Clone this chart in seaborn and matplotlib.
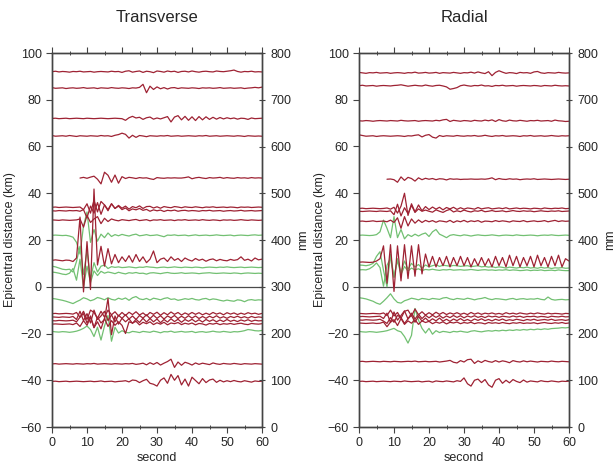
import numpy as np
import pandas as pd
import matplotlib
matplotlib.use("Agg")
import matplotlib.pyplot as plt
import seaborn as sns

# sampling times of the traces (one value per second)
seconds = list(range(61))
nan = float("nan")

# ---------------- Transverse component (baseline km, deviations km) ----------------
tr_92 = [0.0, 0.2, -0.1, 0.1, 0.0, -0.2, 0.1, 0.0, 0.2, -0.1,
         0.0, 0.1, -0.2, 0.0, 0.1, 0.0, -0.1, 0.2, 0.0, 0.1,
         -0.3, 0.2, 0.4, -0.2, 0.1, 0.3, -0.3, 0.2, 0.0, -0.4,
         0.3, 0.1, -0.2, 0.3, 0.0, 0.2, -0.3, 0.1, 0.2, -0.1,
         0.3, 0.0, -0.2, 0.1, 0.2, 0.0, -0.1, 0.3, 0.1, 0.0,
         0.2, 0.4, 0.7, 0.1, -0.2, 0.1, 0.0, 0.2, -0.1, 0.0, -0.1]
tr_85 = [0.2, -0.1, 0.0, 0.1, -0.2, 0.0, 0.1, -0.1, 0.0, 0.2,
         -0.1, 0.0, 0.1, -0.2, 0.1, 0.0, -0.1, 0.2, 0.0, -0.1,
         0.1, 0.0, -0.2, 0.1, 0.0, 0.3, 1.6, -2.0, 0.8, -0.6,
         0.5, -0.3, 0.2, -0.4, 0.1, 0.2, -0.2, 0.1, 0.0, -0.1,
         0.1, 0.0, -0.2, 0.1, 0.0, 0.1, -0.1, 0.0, 0.2, -0.1,
         0.0, 0.1, -0.1, 0.0, 0.1, -0.2, 0.0, 0.1, 0.3, 0.1, 0.4]
tr_72 = [0.0, 0.1, -0.1, 0.0, 0.1, -0.1, 0.0, 0.1, 0.0, -0.1,
         0.1, 0.0, -0.1, 0.0, 0.1, 0.0, -0.1, 0.0, 0.1, 0.0,
         -0.1, -0.8, 0.3, 0.9, 0.2, 0.5, -0.4, 0.3, 0.6, -0.3,
         0.2, -0.2, 0.3, 0.8, -1.5, 0.6, 1.2, -0.6, 0.9, -0.8,
         0.7, -0.9, 0.8, -0.6, 0.7, -0.4, 0.5, -0.3, 0.4, -0.2,
         0.3, -0.1, 0.2, -0.3, 0.1, 0.0, -0.4, 0.2, -0.1, 0.0, 0.1]
tr_64 = [0.2, -0.1, 0.0, 0.1, -0.1, 0.2, 0.0, -0.2, 0.1, 0.0,
         -0.1, 0.1, 0.0, -0.1, 0.2, 0.0, 0.1, -0.2, 0.3, 0.6,
         1.2, 0.7, -0.9, 0.3, -0.6, 0.2, 0.0, -0.3, 0.1, 0.0,
         -0.1, 0.1, 0.0, 0.2, -0.1, 0.0, 0.1, -0.1, 0.0, 0.1,
         0.0, -0.1, 0.1, 0.0, 0.2, -0.1, 0.0, 0.1, -0.1, 0.0,
         0.1, 0.0, -0.1, 0.1, 0.0, -0.2, 0.1, 0.0, -0.1, 0.0, -0.1]
tr_47 = [nan, nan, nan, nan, nan, nan, nan, nan, 0.0, 0.3,
         -0.1, 0.4, 0.8, -0.5, -2.5, 2.5, 1.2, -1.8, 1.3, -2.2,
         0.6, -0.2, 0.3, 0.1, -0.2, 0.2, 0.0, 0.1, -0.3, -0.6,
         0.2, 0.0, -0.1, 0.1, 0.0, 0.1, 0.0, 0.0, 0.2, 0.5,
         -0.3, 0.1, 0.3, 0.0, -0.2, 0.2, 0.0, 0.1, 0.3, -0.1,
         0.2, 0.0, -0.1, 0.2, 0.0, 0.1, -0.1, 0.2, 0.0, 0.1, 0.0]
tr_34 = [0.0, 0.1, -0.1, 0.0, 0.1, 0.0, -0.1, 0.0, 0.1, -1.0,
         1.5, -2.5, 3.0, -2.0, 2.5, 1.0, -1.5, 1.5, -0.5, 0.8,
         -0.4, 0.5, -0.8, 0.3, -0.2, 0.6, -0.5, 0.3, 0.4, -0.3,
         0.2, -0.4, 0.3, 0.0, -0.2, 0.3, 0.1, -0.2, 0.2, 0.0,
         -0.1, 0.2, 0.0, -0.2, 0.1, 0.0, 0.2, -0.1, 0.0, 0.1,
         -0.1, 0.1, 0.0, -0.2, 0.1, 0.0, 0.1, -0.1, 0.0, 0.1, 0.0]
tr_33 = [0.0, -0.1, 0.1, 0.0, -0.1, 0.1, 0.0, 0.1, -0.2, 0.5,
         -3.0, 2.0, -1.0, 3.5, -1.5, 2.5, 0.5, 3.0, 1.0, 2.0,
         0.5, 1.2, 0.0, 0.8, 0.4, 1.0, 0.2, 0.6, -0.2, 0.4,
         0.0, 0.3, -0.3, 0.2, 0.0, 0.3, -0.2, 0.1, 0.2, -0.1,
         0.1, 0.0, -0.2, 0.1, 0.0, 0.2, -0.1, 0.0, 0.1, -0.2,
         0.0, 0.1, -0.1, 0.0, 0.2, -0.1, 0.0, 0.1, -0.1, 0.0, 0.1]
tr_28 = [0.1, 0.0, -0.1, 0.1, 0.0, -0.1, 0.0, 0.1, 0.5, -3.0,
         2.0, -1.0, 0.5, 1.5, -1.5, 0.8, -0.6, 0.5, 0.0, -0.3,
         0.2, 0.0, -0.2, 0.1, 0.3, -0.2, 0.0, 0.2, -0.3, 0.1,
         0.0, 0.2, -0.1, 0.0, 0.1, -0.2, 0.1, 0.0, 0.2, -0.1,
         0.0, 0.1, -0.1, 0.2, 0.0, -0.1, 0.1, 0.0, -0.2, 0.1,
         0.0, 0.1, -0.1, 0.0, 0.2, 0.0, -0.1, 0.1, 0.0, -0.1, 0.0]
tr_11 = [0.0, 0.2, 0.0, -0.2, 0.1, 0.0, -0.5, 1.0, 18.5, -13.5,
         8.0, -12.5, 30.5, -2.0, 6.0, -2.5, 5.0, -1.5, 2.5, -1.0,
         1.5, -0.5, 2.0, -0.8, 2.5, -0.5, 1.5, -1.0, 0.5, 4.0,
         -1.0, 0.5, 1.0, -0.5, 1.5, 0.0, 0.8, -0.5, 1.0, 0.2,
         -0.3, 0.8, 0.0, 0.5, -0.4, 0.3, 0.6, -0.2, 0.4, 0.0,
         -0.2, 0.4, 0.0, 0.3, 1.5, 0.0, 0.5, -0.3, 1.0, 0.2, 0.5]
tg_22 = [0.0, 0.1, 0.0, -0.1, 0.0, -0.3, -0.8, -3.0, -8.0, 4.0,
         10.0, -3.0, 2.5, -2.5, 0.5, -1.0, 1.0, -0.5, 0.3, -0.2,
         0.4, 0.0, -0.3, 0.2, 0.5, -0.2, 0.0, 0.3, -0.1, 0.0,
         0.2, -0.2, -0.6, 0.1, 0.0, 0.2, -0.1, 0.0, 0.1, -0.2,
         0.0, 0.2, -0.1, 0.0, 0.1, -0.1, 0.0, 0.2, 0.0, -0.1,
         0.0, 0.1, -0.2, 0.0, 0.1, 0.0, -0.1, 0.1, 0.2, 0.0, 0.1]
tg_8 = [0.5, 0.2, -0.3, -0.8, -1.0, -0.8, -2.0, 2.5, 9.0, -3.0,
        7.0, -5.0, 2.0, -2.0, 0.5, 1.0, -0.5, 0.3, 0.0, 0.2,
        -0.1, 0.0, 0.2, 0.0, -0.2, 0.1, 0.0, 0.3, 0.1, 0.0,
        -0.2, 0.0, 0.1, -0.1, 0.0, 0.2, 0.0, -0.1, 0.1, 0.0,
        -0.1, 0.1, 0.0, -0.2, 0.0, 0.1, 0.0, -0.1, 0.1, 0.0,
        0.2, 0.0, -0.1, 0.0, 0.1, -0.1, 0.0, 0.1, 0.0, -0.1, 0.0]
tg_6 = [0.5, 0.3, 0.0, -0.4, -0.6, 0.0, 2.0, -3.0, 6.0, -6.0,
        3.0, -4.0, 1.0, -1.0, 0.8, 0.0, 0.5, 0.2, -0.2, 0.4,
        0.0, -0.3, 0.2, 0.0, 0.3, -0.1, 0.0, -0.4, 0.1, 0.2,
        0.0, -0.2, 0.1, 0.3, 0.0, -0.1, 0.0, 0.2, -0.1, 0.0,
        0.1, 0.0, -0.2, 0.0, 0.1, 0.2, 0.0, -0.1, 0.0, 0.1,
        0.0, -0.1, 0.1, 0.0, -0.2, 0.0, 0.1, 0.0, -0.1, 0.0, -0.1]
tg_m5 = [0.2, 0.0, -0.3, -0.6, -1.0, -1.5, -2.0, -1.2, -0.5, 0.5,
         0.0, -0.8, -0.3, 0.6, 0.2, -0.4, 0.5, -0.2, -0.5, 0.3,
         -0.2, 0.4, -0.6, 0.5, 1.0, 0.0, -0.3, 0.2, -0.5, 0.3,
         0.0, -0.4, 0.2, 0.5, -0.2, 0.0, -0.6, -0.3, 0.1, -0.2,
         0.2, -0.3, -0.5, 0.0, 0.2, -0.4, 0.0, -0.2, -0.6, -0.9,
         -0.5, -0.8, -1.0, -0.4, -0.6, -1.2, -0.5, -0.3, -0.6, -0.4, -0.5]
tr_m11 = [0.0, 0.1, -0.1, 0.0, 0.1, 0.0, -0.2, 0.5, -1.5, 1.0,
          -2.5, 1.5, 0.5, -2.0, 1.0, -1.5, 1.5, -0.5, 0.8, -1.0,
          0.5, -0.8, 0.6, -0.4, 0.8, -0.6, 0.3, -0.9, 0.5, -0.3,
          0.6, -0.7, 0.4, -0.5, 0.7, -0.3, 0.5, -0.6, 0.3, -0.4,
          0.5, -0.3, 0.4, -0.5, 0.2, -0.4, 0.5, -0.2, 0.3, -0.5,
          0.4, -0.2, 0.3, -0.4, 0.2, -0.3, 0.4, -0.1, 0.2, -0.3, 0.1]
tr_m13 = [0.1, 0.0, -0.1, 0.1, 0.0, -0.1, 0.3, -1.0, 2.5, -1.5,
          1.5, -2.5, 3.0, -1.0, 0.5, 2.5, -1.5, 1.0, -2.0, 0.8,
          -0.5, 1.0, -0.8, 0.5, -1.0, 0.7, -0.4, 1.0, -0.6, 0.8,
          -0.5, 0.6, -0.8, 0.5, -0.3, 0.7, -0.6, 0.4, -0.5, 0.6,
          -0.4, 0.5, -0.6, 0.3, -0.5, 0.4, -0.3, 0.6, -0.4, 0.2,
          -0.5, 0.3, -0.2, 0.4, -0.3, 0.2, -0.4, 0.3, -0.2, 0.1, -0.1]
tr_m14 = [0.0, -0.1, 0.1, 0.0, -0.1, 0.0, 0.2, -0.5, 1.5, 3.0,
          -1.0, 2.0, -3.0, 1.5, -1.0, 0.5, 9.5, -6.0, 2.0, -1.5,
          1.0, -0.5, 0.8, -1.2, 0.6, -0.8, 1.0, -0.6, 0.9, -0.5,
          0.7, -0.9, 0.5, -0.6, 0.8, -0.4, 0.6, -0.7, 0.5, -0.3,
          0.6, -0.5, 0.4, -0.6, 0.5, -0.3, 0.4, -0.5, 0.3, -0.4,
          0.5, -0.3, 0.2, -0.4, 0.3, -0.2, 0.4, -0.3, 0.2, -0.1, 0.0]
tr_m16 = [0.0, 0.1, 0.0, -0.1, 0.0, 0.1, -0.2, 0.5, -1.0, 1.5,
          -0.5, 3.0, -1.5, 1.0, -2.0, 2.5, -1.0, 1.5, -0.5, 1.0,
          -0.5, -4.0, 1.0, 0.5, 1.2, -0.3, 0.8, 0.2, 1.0, -0.2,
          0.6, 0.0, 0.8, -0.3, 0.5, 0.2, 0.7, -0.2, 0.4, 0.0,
          0.5, -0.3, 0.3, 0.1, -0.4, 0.3, 0.0, 0.4, -0.2, 0.2,
          0.0, 0.3, -0.1, 0.2, 0.4, 0.0, -0.2, 0.3, 0.1, 0.0, 0.2]
tg_m19 = [0.2, 0.0, -0.1, 0.1, 0.0, -0.2, 0.0, 0.3, 0.8, 1.5,
          2.5, 1.0, -2.0, 2.0, -3.5, 2.5, 7.0, -4.0, 2.0, -0.5,
          0.5, -0.2, -0.4, 0.2, 0.0, -0.3, 0.2, 0.0, -0.2, 0.3,
          0.0, -0.4, 0.1, 0.0, 0.3, -0.2, 0.0, 0.2, -0.1, 0.0,
          0.2, -0.3, 0.0, 0.1, -0.2, 0.0, 0.3, 0.0, -0.1, 0.2,
          0.0, -0.2, 0.1, 0.0, 0.2, 0.5, 1.0, 0.8, 0.5, 0.4, 0.6]
tr_m33 = [0.0, 0.1, -0.1, 0.0, 0.1, 0.0, -0.1, 0.1, 0.0, -0.1,
          0.1, 0.0, 0.2, -0.1, 0.0, 0.1, 0.0, -0.1, 0.1, 0.0,
          -0.1, 0.1, 0.0, 0.2, -0.2, 0.0, 0.3, -0.4, 0.5, -0.2,
          0.6, -0.5, 0.3, 1.0, 2.0, -1.5, 0.8, -0.6, 0.7, 0.2,
          -0.5, 0.4, -0.2, 0.3, 0.0, -0.3, 0.4, 0.0, -0.2, 0.2,
          0.0, -0.1, 0.2, 0.0, -0.2, 0.1, 0.0, -0.1, 0.1, 0.0, -0.1]
tr_m40 = [0.0, 0.1, -0.1, 0.0, 0.1, -0.1, 0.0, 0.1, 0.0, -0.1,
          0.0, 0.1, -0.1, 0.0, 0.2, -0.1, 0.0, 0.1, -0.2, 0.0,
          0.1, 0.3, -0.2, 0.6, 0.4, -0.5, 0.3, 0.9, -0.8, -1.2,
          -2.0, 0.5, 1.5, -0.8, 3.0, 0.5, 2.5, -1.5, 1.0, -2.0,
          1.8, 0.4, -1.0, 1.2, -0.5, 0.6, 1.0, -0.4, 0.5, -0.2,
          0.3, -0.1, 0.4, 0.0, -0.2, 0.3, 0.0, -0.3, 0.2, 0.0, 0.1]

# ---------------- Radial component ----------------
rd_91 = [0.2, 0.0, -0.2, 0.1, 0.0, 0.2, -0.1, 0.0, 0.1, -0.2,
         0.0, 0.1, 0.0, -0.2, 0.1, 0.0, 0.3, -0.1, 0.0, 0.2,
         -0.1, 0.0, 0.2, -0.2, 0.1, 0.0, -0.1, 0.2, 0.0, -0.2,
         0.1, 0.0, 0.3, -0.1, 0.4, 0.0, -0.3, 0.5, -1.2, 0.2,
         0.9, 0.3, -0.2, 0.1, 0.0, -0.3, 0.2, 0.0, 0.1, -0.2,
         0.4, 0.6, 0.0, -0.2, 0.1, 0.0, -0.1, 0.2, 0.0, -0.1, 0.0]
rd_86 = [0.0, 0.2, -0.1, 0.0, 0.1, -0.2, 0.0, 0.1, 0.0, -0.1,
         0.1, 0.2, 0.4, 0.1, -0.2, 0.0, 0.2, 0.0, -0.1, 0.3,
         0.0, -0.2, 0.1, 0.2, -0.1, -0.5, -1.5, -1.2, -0.8, 0.0,
         0.3, 0.0, -0.2, 0.1, 0.0, 0.3, -0.1, 0.0, -0.3, 0.1,
         0.0, 0.2, -0.1, 0.0, 0.1, -0.2, 0.0, 0.1, 0.0, -0.1,
         0.1, 0.0, -0.2, 0.1, 0.0, -0.1, 0.2, 0.0, -0.1, 0.0, -0.1]
rd_71 = [0.0, -0.1, 0.1, 0.0, -0.2, 0.0, 0.1, 0.0, -0.1, 0.1,
         0.0, -0.1, 0.2, 0.0, -0.1, 0.0, 0.1, -0.2, 0.0, 0.1,
         0.0, -0.1, 0.2, 0.0, 0.4, 0.6, -0.3, 0.2, 0.0, -0.2,
         0.1, 0.0, -0.2, 0.2, 0.0, -0.1, 0.3, 0.0, 0.4, -0.3,
         0.5, 0.0, -0.2, 0.3, 0.0, -0.1, 0.2, 0.0, -0.2, 0.1,
         0.0, 0.2, -0.1, 0.0, 0.1, -0.2, 0.3, 0.0, -0.1, -0.3, -0.2]
rd_64 = [0.5, 0.2, -0.1, 0.0, 0.1, -0.2, 0.0, 0.1, 0.0, -0.1,
         0.0, 0.1, 0.0, -0.2, 0.1, 0.0, 0.3, 0.5, -0.4, 0.3,
         0.6, -0.5, -0.9, 0.2, -0.2, 0.1, 0.0, -0.1, 0.2, 0.0,
         -0.1, 0.1, 0.0, 0.2, -0.1, 0.0, 0.3, 0.0, -0.2, 0.1,
         0.0, 0.2, -0.1, 0.0, 0.1, 0.0, -0.2, 0.1, 0.0, 0.2,
         -0.1, 0.0, 0.1, -0.1, 0.0, 0.2, 0.0, -0.1, 0.1, 0.0, 0.1]
rd_46 = [nan, nan, nan, nan, nan, nan, nan, nan, 0.0, 0.1,
         -0.2, -1.3, 1.0, -0.5, 0.8, 0.3, -0.8, 0.6, -0.2, 0.4,
         0.0, 0.3, -0.2, 0.2, 0.1, -0.3, 0.2, 0.0, 0.1, -0.1,
         0.0, 0.0, 0.1, 0.0, 0.0, 0.1, 0.0, 0.2, 0.6, -0.2,
         0.3, 0.0, -0.1, 0.2, 0.0, 0.1, -0.2, 0.0, 0.1, 0.0,
         0.2, -0.1, 0.0, 0.1, 0.0, -0.1, 0.0, 0.1, 0.0, -0.1, 0.0]
rd_33 = [0.0, 0.1, -0.1, 0.0, 0.1, 0.0, -0.1, 0.0, 0.2, -0.3,
         0.5, -2.0, 1.0, 6.5, -3.0, 2.0, -1.5, 1.5, -1.0, 0.8,
         -0.5, 0.6, -0.3, 0.5, -0.6, 0.4, -0.2, 0.5, -0.4, 0.3,
         -0.3, 0.2, 0.0, -0.3, 0.4, -0.2, 0.1, 0.3, -0.2, 0.0,
         0.2, -0.1, 0.3, -0.2, 0.0, 0.2, -0.1, 0.1, 0.0, -0.2,
         0.1, 0.0, -0.2, 0.2, 0.0, -0.1, 0.1, 0.0, 0.2, -0.1, 0.0]
rd_32 = [0.0, -0.1, 0.0, 0.1, 0.0, -0.1, 0.1, 0.0, -0.1, 0.2,
         -1.5, 3.0, -2.0, 1.5, -1.0, 2.5, -0.5, 1.0, 0.0, 0.5,
         0.0, -0.4, 0.6, 0.0, -0.5, 0.3, 0.8, -0.3, 0.2, -0.2,
         0.5, 0.0, -0.3, 0.2, 0.0, 0.4, -0.2, 0.0, 0.3, -0.1,
         0.0, 0.2, -0.2, 0.0, 0.3, 0.0, -0.1, 0.2, 0.0, 0.1,
         -0.2, 0.0, 0.2, 0.0, -0.1, 0.1, 0.0, 0.2, -0.1, 0.0, 0.1]
rd_28 = [0.0, 0.1, -0.1, 0.0, 0.2, -0.1, 0.0, 0.1, -0.2, 0.5,
         -0.5, 1.5, -3.0, 2.0, -2.0, 1.0, -0.8, 0.6, -0.5, 0.4,
         -0.2, 0.3, -0.4, 0.2, 0.0, -0.3, 0.4, -0.5, 0.2, -0.2,
         0.4, -0.3, 0.2, -0.1, 0.3, -0.4, 0.1, 0.0, -0.2, 0.3,
         -0.1, 0.2, 0.0, -0.3, 0.2, 0.0, -0.1, 0.3, -0.2, 0.0,
         0.2, -0.1, 0.0, 0.3, -0.2, 0.1, 0.4, -0.1, 0.2, 0.0, 0.1]
rg_22 = [0.0, 0.1, 0.0, -0.1, 0.0, 0.3, 1.5, 6.5, 3.0, -1.0,
         8.0, -1.0, 2.5, -1.5, 0.3, -0.5, 0.5, -0.3, 0.5, 1.0,
         -0.5, 1.5, 2.5, 0.5, -0.2, -1.0, 0.0, 0.3, 0.0, -0.2,
         0.2, 0.0, -0.3, 0.0, 0.2, 0.0, -0.1, 0.0, 0.2, 0.0,
         -0.2, 0.0, 0.1, 0.0, -0.1, 0.2, 0.0, -0.1, 0.0, 0.1,
         0.0, -0.2, 0.0, 0.1, 0.0, 0.2, 0.0, -0.1, 0.0, 0.1, 0.0]
rd_10 = [0.0, 0.1, 0.0, -0.1, 0.0, 0.5, 1.5, 7.0, -9.0, 7.5,
         -12.5, 7.0, -8.0, 7.5, -7.0, 7.0, -6.0, 7.5, -5.0, 3.5,
         -2.0, 2.5, -2.0, 2.0, -1.5, 2.5, -2.0, 2.0, -1.5, 2.5,
         -1.5, 2.0, -2.0, 1.5, -1.5, 2.0, -1.5, 1.5, -2.0, 2.5,
         -1.5, 2.0, -2.0, 3.0, -1.5, 2.5, -2.0, 2.0, -1.5, 2.5,
         -2.0, 3.0, -1.5, 2.0, -2.0, 2.5, -1.5, 3.0, -2.0, 1.5, 0.5]
rg_9 = [0.3, 0.2, 0.0, 0.3, 1.0, 4.0, 6.0, -2.0, -9.0, 5.0,
        -5.0, 3.0, -3.0, 2.0, -1.5, 1.0, -0.5, 0.5, -1.0, 0.3,
        -0.5, 0.0, 0.4, -0.3, 0.2, 0.0, -0.2, 0.1, 0.0, -0.3,
        -0.1, 0.0, -0.4, -0.2, 0.0, -0.5, -0.3, -0.6, -0.4, -0.8,
        -0.5, -0.7, -1.0, -0.6, -0.8, -1.0, -0.7, -0.9, -0.6, -1.0,
        -0.8, -1.1, -0.7, -1.0, -0.8, -1.2, -0.9, -1.0, -0.8, -1.1, -1.0]
rg_7 = [0.0, 0.1, 0.0, 0.5, 1.5, 3.0, 1.0, -7.0, 2.0, 5.0,
        -3.0, 4.0, -2.0, 1.5, -0.5, 0.8, 0.0, 0.5, -0.3, 0.2,
        0.0, 0.3, 0.0, -0.2, 0.1, 0.0, 0.2, -0.1, 0.0, 0.1,
        -0.1, 0.0, 0.2, 0.0, -0.2, 0.0, 0.1, -0.1, 0.0, -0.2,
        0.0, -0.1, 0.1, -0.2, 0.0, -0.1, -0.3, -0.2, 0.0, -0.3,
        -0.1, -0.2, 0.0, -0.3, -0.2, -0.1, -0.3, 0.0, -0.2, -0.3, -0.3]
rg_m5 = [0.5, 0.3, 0.0, -0.5, -1.0, -1.8, -2.3, -1.0, 0.5, 2.2,
         0.0, -1.5, -1.8, -0.8, -0.3, 0.3, 0.0, -0.4, 0.2, 0.0,
         -0.3, 0.2, 0.0, -0.2, 0.4, 0.6, 0.0, -0.3, 0.2, 0.0,
         -0.2, 0.3, 0.0, -0.4, 0.0, 0.2, 0.6, 0.0, -0.3, 0.1,
         0.0, -0.2, -0.4, 0.0, 0.2, -0.3, 0.0, 0.1, -0.2, 0.0,
         -0.1, 0.2, -0.2, -0.4, 0.8, -0.2, -0.5, -0.3, -0.2, -0.4, -0.3]
rd_m11 = [0.1, 0.0, -0.1, 0.0, 0.1, 0.0, -0.1, 0.3, -0.8, 1.5,
          -1.0, 0.5, -2.0, 1.0, 1.5, -1.0, 2.0, -0.5, 0.8, -0.6,
          0.4, -0.5, 0.6, -0.3, 0.5, -0.4, 0.3, -0.2, 0.4, -0.3,
          0.2, -0.4, 0.5, -0.2, 0.3, -0.3, 0.2, -0.1, 0.3, -0.2,
          0.1, -0.3, 0.4, -0.1, 0.2, -0.2, 0.3, 0.0, -0.2, 0.2,
          -0.1, 0.3, 0.0, -0.2, 0.2, -0.1, 0.1, 0.0, -0.2, 0.1, 0.0]
rd_m13 = [0.0, 0.1, 0.0, -0.1, 0.0, 0.1, 0.2, -0.8, 1.5, -2.5,
          2.0, -1.5, 0.5, 2.5, -1.0, 1.5, -1.0, 1.0, -0.8, 0.6,
          -0.5, 0.6, -0.3, 0.5, -0.6, 0.3, -0.4, 0.5, -0.3, 0.4,
          -0.5, 0.3, -0.2, 0.4, -0.3, 0.2, -0.4, 0.3, -0.1, 0.2,
          -0.3, 0.2, 0.0, -0.2, 0.3, -0.1, 0.2, -0.3, 0.1, 0.0,
          0.2, -0.2, 0.1, 0.0, -0.3, 0.2, 0.0, -0.1, 0.2, -0.1, 0.0]
rd_m14 = [0.0, -0.1, 0.1, 0.0, -0.1, 0.0, 0.3, -0.5, -1.5, 1.0,
          -1.0, 2.0, 1.0, -1.5, 0.5, 2.0, -1.0, 1.5, -0.5, 0.8,
          -0.6, 0.5, -0.4, 0.8, -0.5, 0.3, -0.6, 0.4, -0.3, 0.6,
          -0.4, 0.2, -0.5, 0.4, -0.2, 0.5, -0.3, 0.2, -0.4, 0.3,
          -0.2, 0.4, -0.3, 0.1, -0.2, 0.3, 0.0, -0.3, 0.2, -0.1,
          0.3, -0.2, 0.0, 0.2, -0.1, 0.3, -0.2, 0.0, 0.1, -0.2, 0.1]
rd_m15 = [0.1, 0.0, -0.1, 0.0, 0.1, -0.1, 0.0, 0.5, -1.5, 0.5,
          1.5, -1.0, 2.0, -0.5, 1.0, 0.0, 1.5, -0.5, 1.0, 0.3,
          0.8, -0.2, 0.5, 0.0, 0.6, -0.3, 0.4, 0.1, 0.5, -0.2,
          0.3, 0.0, 0.4, -0.2, 0.2, 0.1, -0.3, 0.3, 0.0, 0.2,
          -0.1, 0.3, 0.0, -0.2, 0.2, 0.0, 0.3, -0.1, 0.1, 0.0,
          0.2, -0.2, 0.1, 0.3, 0.0, -0.1, 0.2, 0.0, 0.3, -0.1, 0.1]
rg_m19 = [0.2, 0.0, -0.1, 0.1, 0.0, -0.2, 0.0, 0.2, 0.5, 1.0,
          1.5, 0.5, 0.0, -2.0, -4.8, -1.5, 10.0, 5.0, 1.5, -0.5,
          1.5, -1.0, 0.5, -0.3, 0.2, 0.0, -0.3, 0.2, 0.0, 0.3,
          0.0, -0.2, 0.3, 0.5, 0.2, 0.0, 0.3, 0.5, 0.3, 0.6,
          0.4, 0.7, 0.5, 0.8, 0.6, 0.9, 0.7, 1.0, 0.8, 1.1,
          0.9, 1.2, 1.0, 1.3, 1.1, 1.4, 1.5, 1.6, 1.8, 1.7, 1.9]
rd_m32 = [0.0, 0.1, -0.1, 0.0, 0.1, 0.0, -0.1, 0.1, 0.0, -0.1,
          0.1, 0.0, -0.1, 0.0, 0.1, 0.0, 0.2, -0.1, 0.0, 0.1,
          -0.1, 0.0, 0.1, -0.2, 0.0, 0.2, 0.5, -0.3, -0.6, 0.4,
          -0.2, 0.8, 1.0, -0.8, 0.3, -0.4, 0.5, 0.0, -0.3, 0.4,
          -0.2, 0.3, 0.0, -0.5, 0.4, 0.0, -0.2, 0.3, -0.1, 0.2,
          0.0, -0.2, 0.1, 0.0, -0.1, 0.2, 0.0, -0.1, 0.1, 0.0, -0.1]
rd_m40 = [0.0, 0.1, -0.1, 0.0, 0.1, -0.1, 0.0, 0.1, 0.0, -0.1,
          0.1, 0.0, -0.1, 0.2, 0.0, -0.1, 0.0, 0.1, -0.2, 0.0,
          0.1, -0.3, 0.2, 0.0, -0.1, 0.2, 0.0, -0.2, 0.3, 0.0,
          1.5, -1.0, -2.0, 0.5, 1.0, -0.5, 0.8, -1.5, -2.5, 0.5,
          1.2, -0.8, 0.5, -0.6, 0.8, 0.0, -0.5, 0.6, -0.3, 0.2,
          0.0, -0.2, 0.3, 0.0, -0.1, 0.2, 0.0, -0.2, 0.1, 0.0, 0.1]

# (trace, baseline km, kind)
transverse = [
    (tr_92, 92.0, "red"), (tr_85, 85.0, "red"), (tr_72, 72.0, "red"),
    (tr_64, 64.5, "red"), (tr_47, 46.5, "red"), (tr_34, 34.0, "red"),
    (tr_33, 32.5, "red"), (tr_28, 28.5, "red"), (tg_22, 22.0, "green"),
    (tr_11, 11.3, "red"), (tg_8, 8.3, "green"), (tg_6, 5.8, "green"),
    (tg_m5, -5.2, "green"), (tr_m11, -11.5, "red"), (tr_m13, -13.0, "red"),
    (tr_m14, -14.5, "red"), (tr_m16, -16.0, "red"), (tg_m19, -19.3, "green"),
    (tr_m33, -33.0, "red"), (tr_m40, -40.5, "red"),
]
radial = [
    (rd_91, 91.5, "red"), (rd_86, 86.0, "red"), (rd_71, 71.0, "red"),
    (rd_64, 64.5, "red"), (rd_46, 46.0, "red"), (rd_33, 33.5, "red"),
    (rd_32, 32.3, "red"), (rd_28, 28.0, "red"), (rg_22, 22.0, "green"),
    (rd_10, 10.5, "red"), (rg_9, 9.0, "green"), (rg_7, 7.2, "green"),
    (rg_m5, -5.2, "green"), (rd_m11, -11.5, "red"), (rd_m13, -12.8, "red"),
    (rd_m14, -14.2, "red"), (rd_m15, -15.6, "red"), (rg_m19, -19.3, "green"),
    (rd_m32, -32.0, "red"), (rd_m40, -40.5, "red"),
]

colors = {"red": "#9e2233", "green": "#72c072"}


def to_frame(traces):
    rows = []
    for i, (devs, base, kind) in enumerate(traces):
        for t, d in zip(seconds, devs):
            rows.append({"second": t, "km": base + d, "trace": i, "kind": kind})
    df = pd.DataFrame(rows)
    return df.dropna(subset=["km"])


sns.set_style("ticks")
plt.rcParams["font.family"] = ["Liberation Sans", "DejaVu Sans"]

fig = plt.figure(figsize=(6.16, 4.65), dpi=100)
panels = [("Transverse", transverse, 52 / 616, 3), ("Radial", radial, 359 / 616, 1)]

for title, traces, left, ypad in panels:
    ax = fig.add_axes([left, 1 - 427 / 465, 210 / 616, 374 / 465])
    df = to_frame(traces)
    for kind in ["green", "red"]:
        sub = df[df["kind"] == kind]
        sns.lineplot(data=sub, x="second", y="km", units="trace", estimator=None,
                     color=colors[kind], lw=0.9, ax=ax, legend=False)
    ax.axhline(0, color="#4a4a4a", lw=0.9, zorder=1)

    ax.set_xlim(0, 60)
    ax.set_ylim(-60, 100)
    ax.set_xticks(range(0, 61, 10))
    ax.set_yticks(range(-60, 101, 20))
    ax.set_xticks(range(0, 61, 5), minor=True)
    ax.tick_params(axis="both", labelsize=9, length=4, width=0.8, color="#444444")
    ax.tick_params(axis="x", which="both", top=True)
    ax.tick_params(axis="x", which="minor", length=3, direction="inout")
    ax.set_xlabel("second", fontsize=9, labelpad=2)
    ax.set_ylabel("Epicentral distance (km)", fontsize=9, labelpad=ypad)
    ax.set_title(title, fontsize=12, pad=22)
    for sp in ax.spines.values():
        sp.set_color("#444444")
        sp.set_linewidth(1.0)

    # right axis in mm
    ax2 = ax.twinx()
    ax2.set_ylim(0, 800)
    ax2.set_yticks(range(0, 801, 100))
    ax2.tick_params(axis="y", labelsize=9, length=5, width=0.8, direction="inout", color="#444444")
    ax2.set_ylabel("mm", fontsize=9, labelpad=4)
    for sp in ax2.spines.values():
        sp.set_color("#444444")
        sp.set_linewidth(1.0)

fig.savefig("out.png", dpi=100)
